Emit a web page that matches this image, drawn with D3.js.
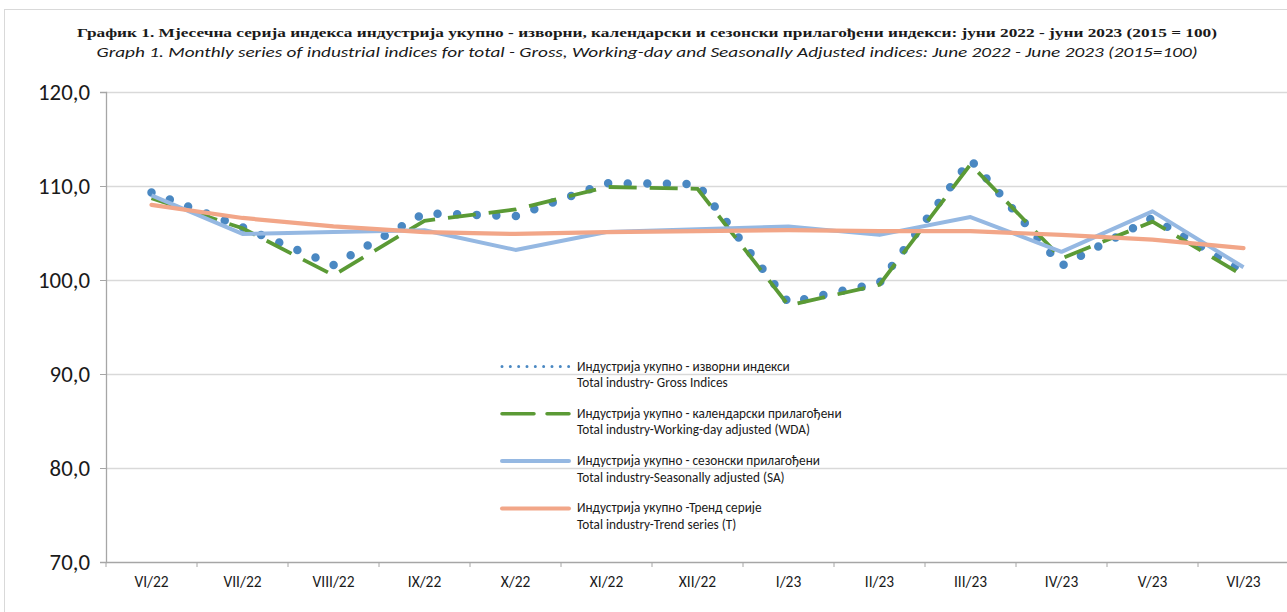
<!DOCTYPE html>
<html><head><meta charset="utf-8">
<script src="https://cdn.jsdelivr.net/npm/d3@7"></script>
<style>body{margin:0;background:#fff;} svg{display:block;}</style>
</head><body>
<svg id="chart" width="1287" height="612"></svg>
<script>
const categories = ["VI/22","VII/22","VIII/22","IX/22","X/22","XI/22","XII/22","I/23","II/23","III/23","IV/23","V/23","VI/23"];
const gross = [109.3,105.6,101.6,107.1,106.8,110.3,110.2,97.6,99.7,112.8,101.5,106.6,100.9];
const wda   = [108.7,105.5,100.5,106.3,107.5,109.9,109.7,97.3,99.5,112.3,102.3,106.2,100.45];
const sa    = [109.0,104.9,105.1,105.3,103.2,105.1,105.4,105.7,104.8,106.7,103.0,107.3,101.35];
const trend = [108.0,106.6,105.7,105.1,104.9,105.1,105.2,105.3,105.2,105.2,104.8,104.3,103.4];
const yTicks = [70,80,90,100,110,120];
const titleSr = "График 1. Мјесечна серија индекса индустрија укупно - изворни, календарски и сезонски прилагођени индекси: јуни 2022 - јуни 2023 (2015 = 100)";
const titleEn = "Graph 1. Monthly series of industrial indices for total - Gross, Working-day and Seasonally Adjusted indices: June 2022 - June 2023 (2015=100)";
const legendItems = [
  ["Индустрија укупно - изворни индекси","Total industry- Gross Indices"],
  ["Индустрија укупно - календарски прилагођени","Total industry-Working-day adjusted (WDA)"],
  ["Индустрија укупно - сезонски прилагођени","Total industry-Seasonally adjusted (SA)"],
  ["Индустрија укупно -Тренд серије","Total industry-Trend series (T)"]
];

const svg = d3.select("#chart");
const pL = 106, pR = 1289, pT = 92, pB = 562;
const sans = "Carlito, Calibri, 'Open Sans', Lato, sans-serif";

function fitSize(sample, family, target, extra){
  const t = svg.append("text").attr("font-family",family).attr("font-size",20).text(sample);
  if (extra) extra(t);
  const l = t.node().getComputedTextLength();
  t.remove();
  return 20*target/l;
}

// chart border
svg.append("rect").attr("x",4.5).attr("y",9.5).attr("width",1300).attr("height",700)
  .attr("fill","#fff").attr("stroke","#d9d9d9").attr("stroke-width",1);

const x = d3.scaleBand().domain(categories).range([pL, pR]).padding(0);
const y = d3.scaleLinear().domain([70,120]).range([pB, pT]);
const cx = c => x(c) + x.bandwidth()/2;

// gridlines
const grid = svg.append("g").attr("transform",`translate(${pL},0)`)
  .call(d3.axisLeft(y).tickValues(yTicks.filter(v=>v>70)).tickSize(-(pR-pL)).tickFormat(""));
grid.select(".domain").remove();
grid.selectAll("line").attr("stroke","#d9d9d9").attr("stroke-width",1.3);

// y axis
const yFs = fitSize("120,0", sans, 52);
const yAxis = svg.append("g").attr("transform",`translate(${pL},0)`)
  .call(d3.axisLeft(y).tickValues(yTicks).tickSize(6).tickPadding(10)
    .tickFormat(d => d3.format(".1f")(d).replace(".", ",")));
yAxis.select(".domain").attr("stroke","#a6a6a6").attr("stroke-width",1.3);
yAxis.selectAll(".tick line").attr("stroke","#a6a6a6");
yAxis.selectAll("text").attr("font-family",sans).attr("font-size",yFs).attr("fill","#1a1a1a");

// x axis
const xFs = fitSize("VIII/22", sans, 42);
const xAxis = svg.append("g").attr("transform",`translate(0,${pB})`)
  .call(d3.axisBottom(x).tickSize(0).tickPadding(14));
xAxis.select(".domain").attr("stroke","#a6a6a6").attr("stroke-width",1.3);
xAxis.selectAll("text").attr("font-family",sans).attr("font-size",xFs).attr("fill","#1a1a1a");
svg.append("g").selectAll("line").data(categories).join("line")
  .attr("x1",d=>x(d)).attr("x2",d=>x(d)).attr("y1",pB).attr("y2",pB+5)
  .attr("stroke","#a6a6a6").attr("stroke-width",1);

const line = d3.line().x((d,i)=>cx(categories[i])).y(d=>y(d));

const plot = svg.append("g");
plot.append("path").datum(gross).attr("d",line).attr("fill","none")
  .attr("stroke","#4a88c2").attr("stroke-width",8.5).attr("stroke-linecap","round")
  .attr("stroke-dasharray","0,19.6");
plot.append("path").datum(wda).attr("d",line).attr("fill","none")
  .attr("stroke","#5b9a35").attr("stroke-width",3.8).attr("stroke-dasharray","28,13");
plot.append("path").datum(sa).attr("d",line).attr("fill","none")
  .attr("stroke","#95b8e2").attr("stroke-width",4).attr("stroke-linejoin","round");
plot.append("path").datum(trend).attr("d",line).attr("fill","none")
  .attr("stroke","#f2a688").attr("stroke-width",4.2).attr("stroke-linejoin","round").attr("stroke-linecap","round");

// legend
const legStyles = [
  {stroke:"#4a88c2", w:3, dash:"0,8.33", cap:"round"},
  {stroke:"#5b9a35", w:3.5, dash:"32,13", cap:"round"},
  {stroke:"#95b8e2", w:4, dash:null, cap:"round"},
  {stroke:"#f2a688", w:4, dash:null, cap:"round"}
];
const legFs = fitSize(legendItems[0][0], sans, 213);
const leg = svg.append("g");
legendItems.forEach((it,i)=>{
  const yy = 366.5 + i*47.3;
  const s = legStyles[i];
  const ln = leg.append("line").attr("x1",502).attr("x2",569).attr("y1",yy).attr("y2",yy)
    .attr("stroke",s.stroke).attr("stroke-width",s.w).attr("stroke-linecap",s.cap);
  if (s.dash) ln.attr("stroke-dasharray",s.dash);
  leg.append("text").attr("x",577).attr("y",yy+4).text(it[0])
    .attr("font-family",sans).attr("font-size",legFs).attr("fill","#1a1a1a");
  leg.append("text").attr("x",577).attr("y",yy+20.5).text(it[1])
    .attr("font-family",sans).attr("font-size",legFs).attr("fill","#1a1a1a");
});

// titles
svg.append("text").attr("x",647).attr("y",37).attr("text-anchor","middle")
  .attr("font-family","'Liberation Serif', 'DejaVu Serif', serif").attr("font-weight","bold")
  .attr("font-size",13).attr("fill","#1a1a1a")
  .attr("textLength",1140).attr("lengthAdjust","spacingAndGlyphs").text(titleSr);
svg.append("text").attr("x",647).attr("y",57).attr("text-anchor","middle")
  .attr("font-family",sans).attr("font-style","italic")
  .attr("font-size",14).attr("fill","#1a1a1a")
  .attr("textLength",1101).attr("lengthAdjust","spacingAndGlyphs").text(titleEn);
</script>
</body></html>
